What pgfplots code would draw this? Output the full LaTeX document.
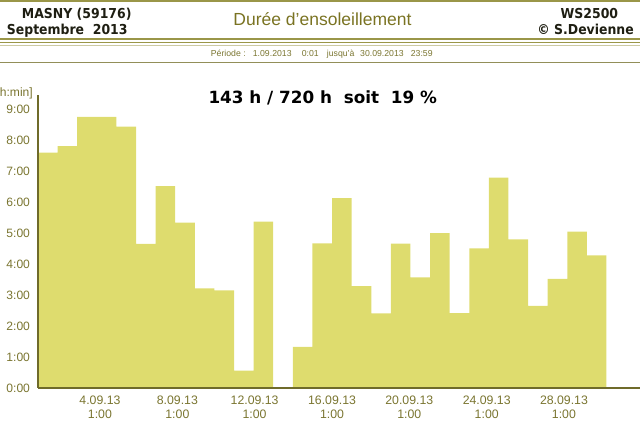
\documentclass[border=0pt]{standalone}
\usepackage{pgfplots}
\pgfplotsset{compat=1.18}
\usepackage{fontspec}
\setmainfont{Liberation Sans}
\newfontfamily\verdn[FakeStretch=0.91]{DejaVu Sans}
\newfontfamily\verd{DejaVu Sans}
\definecolor{barcol}{HTML}{DEDC6E}
\definecolor{olivetxt}{HTML}{7A7530}
\definecolor{titlecol}{HTML}{7A7322}
\definecolor{axcol}{HTML}{6F6B2A}
\definecolor{linecol}{HTML}{9A9648}
\definecolor{hdr}{HTML}{1E1E12}
\begin{document}
\begin{tikzpicture}[x=1pt,y=1pt]
\useasboundingbox (0,0) rectangle (640,427);
\clip (0,0) rectangle (640,427);
% header lines
\draw[linecol, line width=1.6pt] (0,426) -- (640,426);
\draw[linecol, line width=1.1pt] (0,388) -- (640,388);
\draw[linecol, line width=1.1pt] (0,384.3) -- (640,384.3);
\draw[linecol!50, line width=0.7pt] (0,381.3) -- (640,381.3);
\draw[linecol!70!gray, line width=1pt] (0,364.3) -- (640,364.3);
% header texts
\node[anchor=base west, inner sep=0, text=hdr, font=\verdn\bfseries\fontsize{13.7}{16}\selectfont] at (21.7,408.7) {MASNY (59176)};
\node[anchor=base west, inner sep=0, text=hdr, font=\verdn\bfseries\fontsize{13.7}{16}\selectfont] at (6.7,392.7) {Septembre\ \ 2013};
\node[anchor=base east, inner sep=0, text=hdr, font=\verdn\bfseries\fontsize{13.7}{16}\selectfont] at (618.3,408.7) {WS2500};
\node[anchor=base east, inner sep=0, text=hdr, font=\verdn\bfseries\fontsize{13.7}{16}\selectfont] at (634,392.7) {© S.Devienne};
\node[anchor=base, inner sep=0, text=titlecol, font=\fontsize{17.5}{20}\selectfont] at (322.5,401) {Durée d'ensoleillement};
% period line
\begin{scope}[every node/.style={anchor=base west, inner sep=0, text=olivetxt, font=\fontsize{8.7}{10}\selectfont}]
\node at (210.7,370.3) {Période :};
\node at (252.7,370.3) {1.09.2013};
\node at (301.7,370.3) {0:01};
\node at (326.7,370.3) {jusqu'à};
\node at (360,370.3) {30.09.2013};
\node at (410.7,370.3) {23:59};
\end{scope}
% unit and summary
\node[anchor=base east, inner sep=0, text=olivetxt, font=\fontsize{12.1}{14}\selectfont] at (33,330) {[h:min]};
\node[anchor=base west, inner sep=0, text=black, font=\verd\bfseries\fontsize{16.8}{19}\selectfont] at (208.3,323) {143 h / 720 h\ \ soit\ \ 19 \%};
\begin{axis}[
  at={(38pt,39pt)}, anchor=south west,
  scale only axis, width=602pt, height=293pt,
  xmin=0, xmax=30.71, ymin=0, ymax=9.46,
  axis x line=bottom, axis y line=left,
  axis line style={-, draw=axcol, line width=1.5pt},
  axis on top,
  major tick length=0pt,
  ytick={0,1,2,3,4,5,6,7,8,9},
  yticklabels={0:00,1:00,2:00,3:00,4:00,5:00,6:00,7:00,8:00,9:00},
  xtick={3.16,7.11,11.05,15.0,18.94,22.89,26.83},
  xticklabels={{4.09.13\\1:00},{8.09.13\\1:00},{12.09.13\\1:00},{16.09.13\\1:00},{20.09.13\\1:00},{24.09.13\\1:00},{28.09.13\\1:00}},
  xticklabel style={align=center, text=olivetxt, font=\fontsize{12.3}{14}\selectfont, yshift=-4pt},
  yticklabel style={text=olivetxt, font=\fontsize{12.1}{14}\selectfont, xshift=-4.5pt},
]
\addplot[fill=barcol, draw=none, const plot mark left] coordinates {
(0,7.60) (1,7.81) (2,8.75) (3,8.75) (4,8.44) (5,4.65) (6,6.52) (7,5.34)
(8,3.22) (9,3.15) (10,0.56) (11,5.37) (12,0) (13,1.33) (14,4.67) (15,6.13)
(16,3.29) (17,2.41) (18,4.66) (19,3.57) (20,5.00) (21,2.42) (22,4.51) (23,6.79)
(24,4.80) (25,2.65) (26,3.52) (27,5.05) (28,4.28) (29,0) (30,0)
} \closedcycle;
\end{axis}
\end{tikzpicture}
\end{document}
